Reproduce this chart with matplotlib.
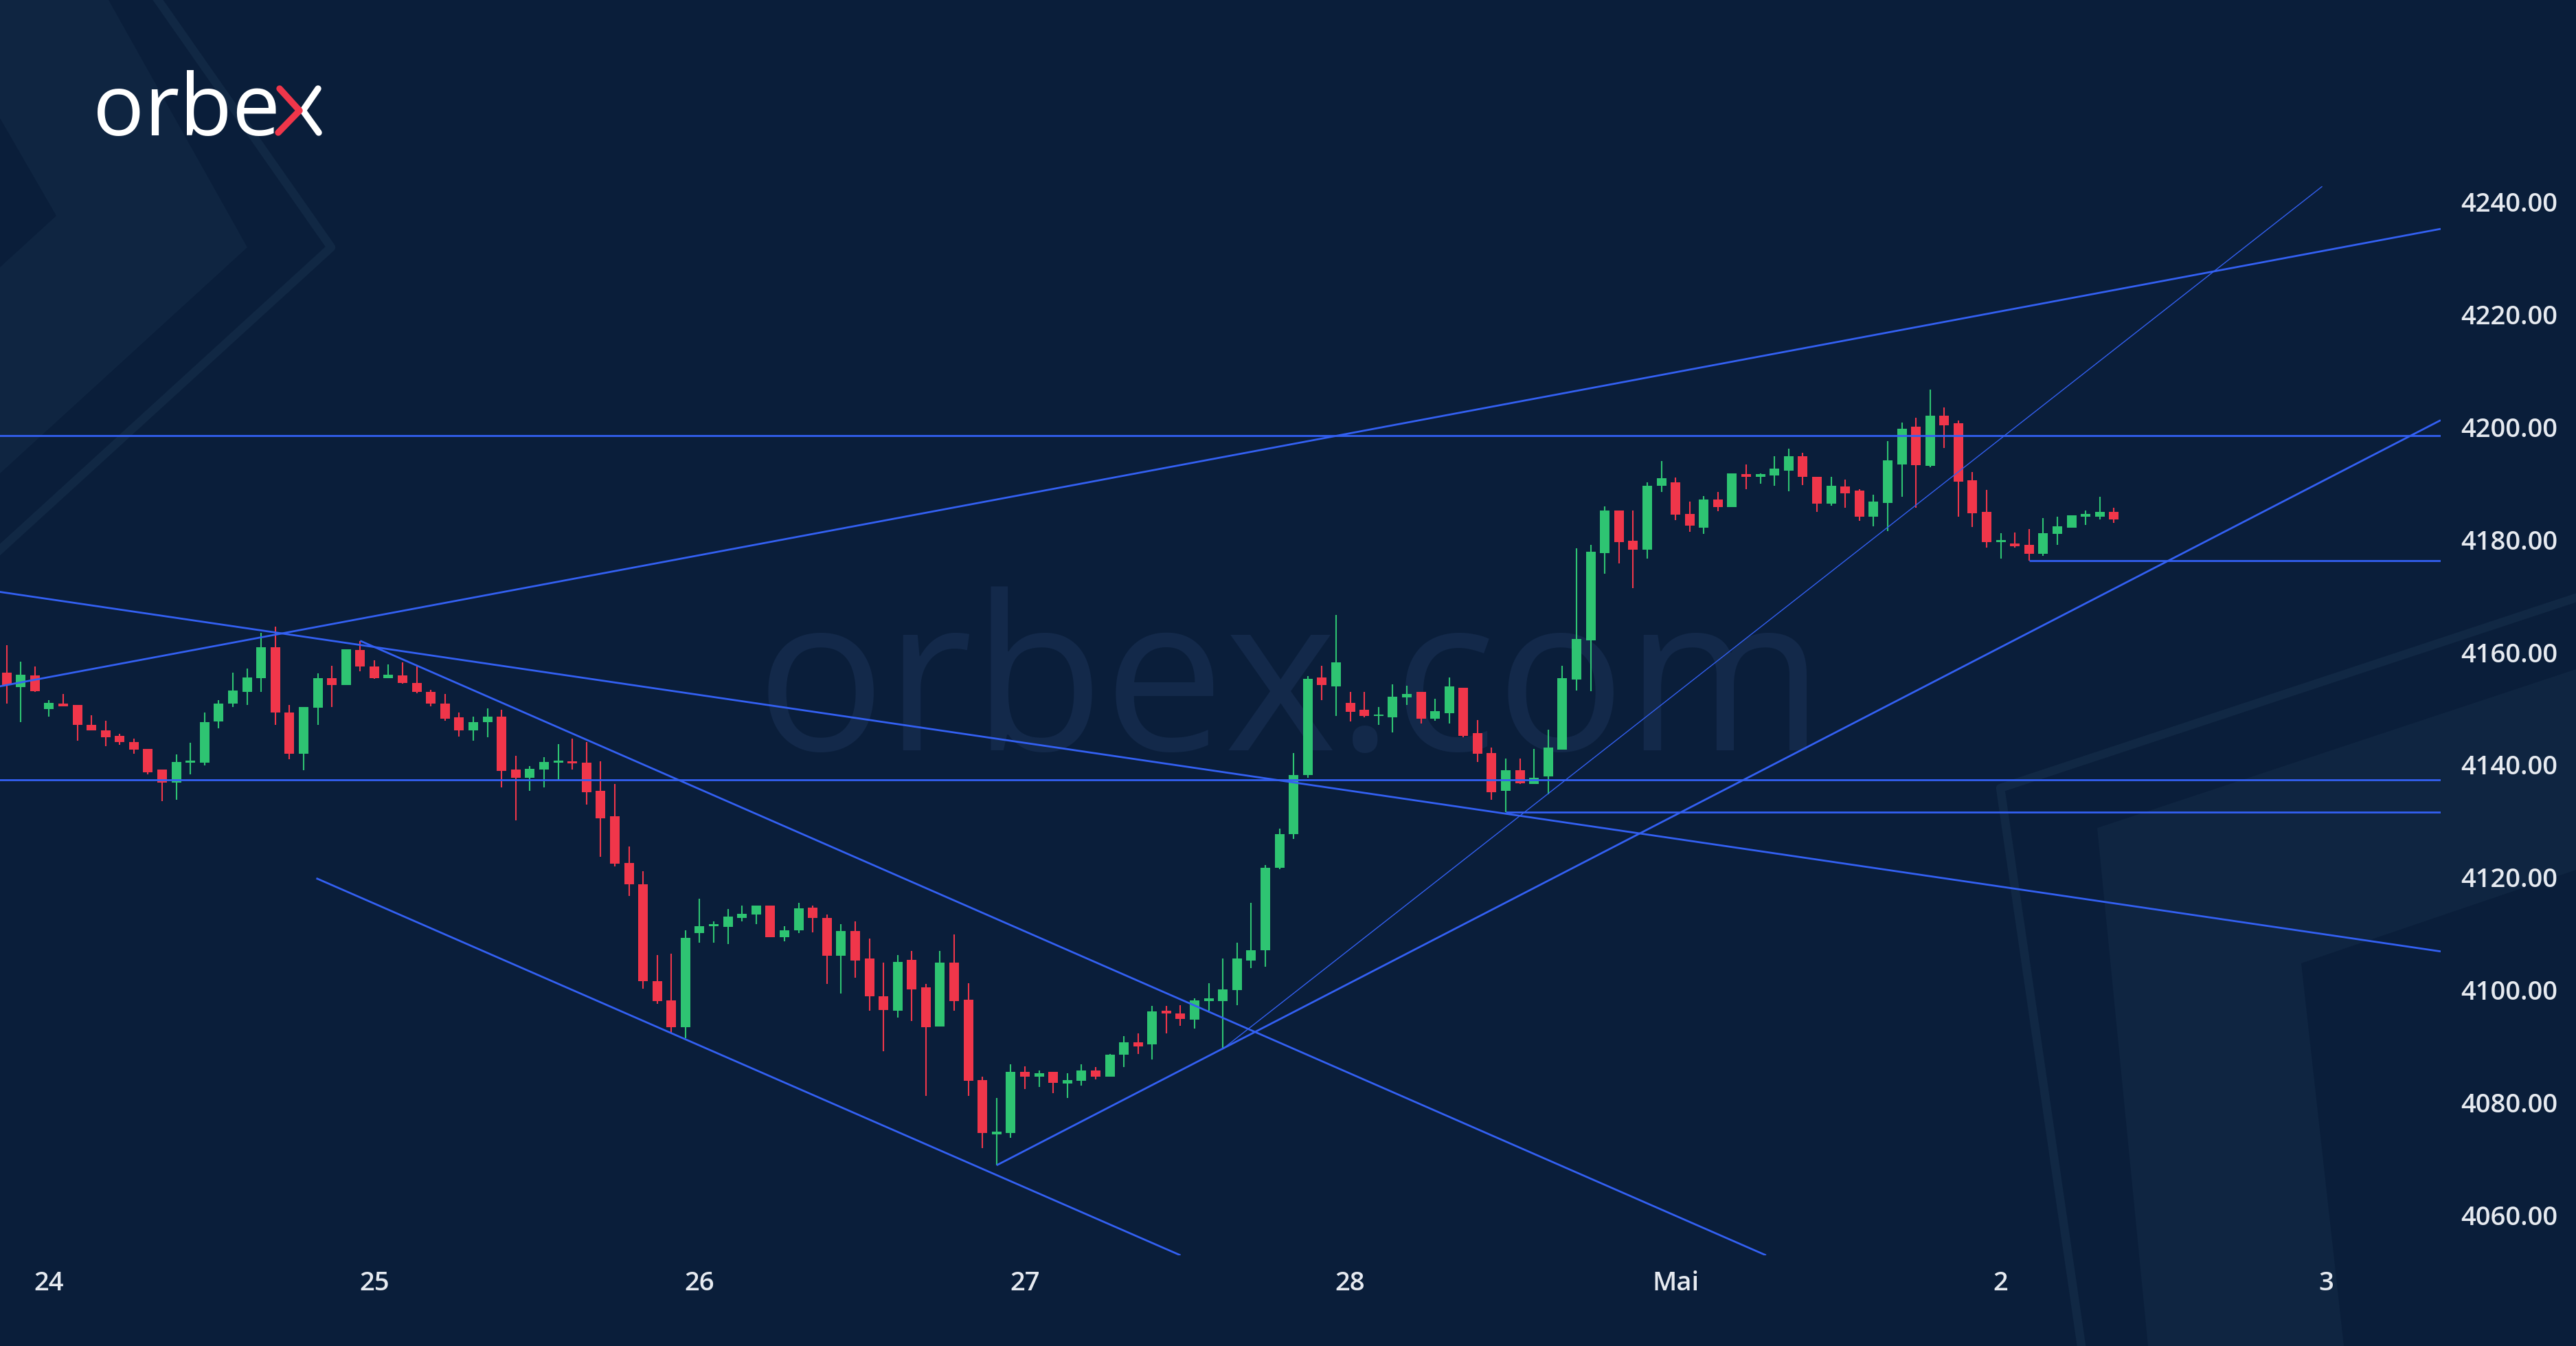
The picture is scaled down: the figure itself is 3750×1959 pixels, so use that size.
import numpy as np
import matplotlib
matplotlib.use('Agg')
import matplotlib.pyplot as plt
from matplotlib.patches import Polygon

plt.rcParams['font.family'] = ['Open Sans', 'DejaVu Sans']

# hourly bars, index 0..149
opens = [4156.3, 4153.8, 4155.9, 4149.9, 4150.9, 4150.6, 4147.1, 4146.1, 4145.1, 4144.0,
         4142.8, 4139.1, 4136.8, 4140.4, 4140.4, 4147.7, 4150.8, 4152.9, 4155.3, 4160.8,
         4149.3, 4141.9, 4150.1, 4155.3, 4154.2, 4160.4, 4157.4, 4155.3, 4155.9, 4154.5,
         4152.9, 4150.9, 4148.4, 4146.1, 4147.5, 4148.5, 4139.1, 4137.6, 4139.1, 4140.4,
         4140.6, 4140.4, 4135.3, 4130.8, 4122.5, 4118.7, 4101.5, 4098.1, 4093.3, 4110.1,
         4111.3, 4111.2, 4112.8, 4113.3, 4115.0, 4109.3, 4110.5, 4114.6, 4112.7, 4106.0,
         4110.4, 4105.5, 4098.8, 4096.3, 4105.3, 4100.4, 4093.5, 4104.8, 4098.2, 4083.9,
         4074.3, 4074.5, 4085.4, 4084.6, 4085.4, 4083.3, 4083.8, 4085.6, 4084.6, 4088.4,
         4090.6, 4090.3, 4096.3, 4095.8, 4094.7, 4098.0, 4098.0, 4099.9, 4105.2, 4107.0,
         4121.7, 4127.6, 4138.1, 4155.5, 4153.9, 4151.0, 4149.8, 4148.6, 4148.4, 4151.9,
         4152.9, 4148.2, 4149.1, 4153.7, 4145.6, 4142.0, 4135.3, 4139.0, 4136.6, 4137.9,
         4142.7, 4155.1, 4162.1, 4177.6, 4185.2, 4179.8, 4178.2, 4189.5, 4190.1, 4184.5,
         4182.1, 4187.1, 4185.8, 4191.6, 4191.1, 4191.4, 4192.2, 4194.8, 4191.1, 4186.4,
         4189.4, 4188.7, 4184.1, 4186.5, 4193.3, 4200.0, 4193.1, 4202.0, 4200.7, 4190.5,
         4184.9, 4179.5, 4179.3, 4179.1, 4177.4, 4181.0, 4182.1, 4184.1, 4184.0, 4184.9]
highs = [4161.2, 4158.3, 4157.4, 4151.5, 4152.5, 4150.6, 4148.8, 4147.8, 4145.5, 4144.6,
         4142.8, 4139.1, 4141.8, 4143.9, 4149.3, 4151.5, 4156.3, 4157.1, 4163.4, 4164.5,
         4150.6, 4150.2, 4156.2, 4157.5, 4160.5, 4162.0, 4158.5, 4157.8, 4158.2, 4157.4,
         4153.3, 4152.5, 4149.2, 4148.5, 4150.0, 4149.7, 4141.6, 4139.7, 4141.3, 4143.6,
         4144.6, 4144.0, 4140.6, 4136.6, 4125.5, 4121.1, 4106.2, 4106.4, 4110.5, 4116.2,
         4112.1, 4114.3, 4114.9, 4115.0, 4115.0, 4111.3, 4115.4, 4115.0, 4113.3, 4111.7,
         4112.1, 4109.1, 4104.8, 4106.2, 4106.9, 4101.0, 4106.9, 4109.8, 4101.2, 4084.6,
         4080.8, 4086.8, 4086.4, 4085.7, 4085.4, 4085.2, 4086.8, 4086.2, 4088.6, 4091.7,
         4092.2, 4097.1, 4097.1, 4097.3, 4098.5, 4101.1, 4105.6, 4108.4, 4115.4, 4122.2,
         4128.6, 4142.0, 4155.7, 4157.6, 4166.6, 4152.9, 4152.9, 4150.2, 4154.3, 4154.0,
         4152.9, 4151.7, 4155.5, 4153.7, 4147.9, 4143.0, 4141.1, 4141.1, 4142.8, 4146.2,
         4157.6, 4178.4, 4179.1, 4185.9, 4185.2, 4185.2, 4190.2, 4193.9, 4191.0, 4186.7,
         4187.7, 4188.4, 4191.7, 4193.3, 4191.8, 4194.8, 4196.2, 4195.4, 4191.1, 4191.1,
         4190.6, 4188.9, 4188.0, 4197.5, 4200.8, 4201.6, 4206.6, 4203.5, 4201.2, 4192.0,
         4188.8, 4181.1, 4181.3, 4181.9, 4183.8, 4184.1, 4184.3, 4185.2, 4187.6, 4185.7]
lows = [4150.8, 4147.6, 4152.9, 4148.5, 4150.3, 4144.3, 4146.1, 4143.3, 4143.5, 4141.9,
        4138.3, 4133.5, 4133.7, 4138.3, 4139.8, 4146.4, 4150.2, 4150.6, 4152.9, 4147.0,
        4141.0, 4139.0, 4147.1, 4150.2, 4154.2, 4156.6, 4155.2, 4155.3, 4154.4, 4152.7,
        4150.3, 4147.8, 4145.0, 4144.2, 4144.8, 4135.9, 4130.1, 4135.3, 4135.9, 4137.2,
        4139.1, 4132.9, 4123.6, 4121.9, 4116.6, 4100.2, 4097.5, 4092.3, 4091.4, 4108.3,
        4108.4, 4108.1, 4112.1, 4111.7, 4109.3, 4108.6, 4110.1, 4110.2, 4101.0, 4099.3,
        4102.1, 4096.3, 4089.1, 4095.0, 4094.4, 4081.1, 4093.5, 4096.3, 4081.1, 4071.9,
        4068.8, 4073.7, 4082.3, 4082.7, 4081.6, 4080.8, 4083.0, 4084.1, 4084.5, 4086.2,
        4088.6, 4087.6, 4092.2, 4093.6, 4093.1, 4096.3, 4089.5, 4097.3, 4103.8, 4104.1,
        4121.4, 4126.8, 4137.7, 4151.4, 4148.6, 4147.7, 4148.4, 4147.1, 4145.7, 4150.6,
        4147.3, 4147.8, 4147.3, 4144.9, 4140.5, 4133.8, 4131.6, 4136.5, 4136.6, 4134.7,
        4142.7, 4153.2, 4153.0, 4173.9, 4175.8, 4171.4, 4176.6, 4188.4, 4183.4, 4181.4,
        4181.0, 4185.0, 4185.8, 4188.9, 4189.9, 4189.5, 4188.6, 4189.7, 4184.9, 4186.0,
        4185.6, 4183.3, 4182.3, 4181.5, 4187.6, 4185.7, 4192.8, 4196.3, 4184.1, 4182.2,
        4178.5, 4176.6, 4178.5, 4176.2, 4177.1, 4179.1, 4182.1, 4182.6, 4183.6, 4183.0]
closes = [4154.2, 4156.0, 4153.0, 4151.0, 4150.4, 4147.1, 4146.1, 4144.8, 4144.0, 4142.7,
          4138.6, 4136.8, 4140.5, 4140.7, 4147.6, 4150.9, 4153.2, 4155.5, 4160.8, 4149.2,
          4141.9, 4150.2, 4155.3, 4154.2, 4160.5, 4157.4, 4155.3, 4156.0, 4154.5, 4152.9,
          4150.8, 4148.1, 4146.1, 4147.6, 4148.5, 4138.9, 4137.6, 4139.3, 4140.5, 4140.7,
          4140.2, 4135.1, 4130.4, 4122.4, 4118.7, 4101.5, 4098.0, 4093.3, 4109.2, 4111.3,
          4111.5, 4113.0, 4113.5, 4115.0, 4109.3, 4110.6, 4114.4, 4112.7, 4106.0, 4110.4,
          4105.2, 4098.8, 4096.4, 4104.9, 4100.0, 4093.3, 4104.8, 4098.0, 4083.8, 4074.5,
          4074.8, 4085.4, 4084.6, 4085.2, 4083.5, 4083.9, 4085.6, 4084.6, 4088.4, 4090.6,
          4089.9, 4096.2, 4095.8, 4094.8, 4098.1, 4098.5, 4100.0, 4105.5, 4107.0, 4121.7,
          4127.7, 4138.1, 4155.2, 4154.2, 4158.2, 4149.4, 4148.6, 4148.8, 4152.1, 4152.5,
          4148.2, 4149.5, 4153.9, 4145.1, 4141.9, 4135.1, 4139.0, 4136.7, 4137.7, 4143.0,
          4155.3, 4162.3, 4177.8, 4185.1, 4179.5, 4178.2, 4189.6, 4190.9, 4184.4, 4182.5,
          4187.1, 4185.8, 4191.7, 4191.1, 4191.6, 4192.6, 4194.8, 4191.1, 4186.4, 4189.6,
          4188.2, 4184.1, 4186.7, 4194.1, 4199.7, 4193.2, 4202.0, 4200.3, 4190.3, 4184.7,
          4179.5, 4179.7, 4178.8, 4177.5, 4181.1, 4182.3, 4184.3, 4184.5, 4184.9, 4183.6]

day_pos = [3, 26, 49, 72, 95, 118, 141, 164]
day_labels = ['24', '25', '26', '27', '28', 'Mai', '2', '3']
price_ticks = [4060, 4080, 4100, 4120, 4140, 4160, 4180, 4200, 4220, 4240]

# drawn trend lines: (bar0, price0, bar1, price1)
trend_lines = [(-0.5, 4153.9, 172.1, 4235.2),
               (-0.5, 4170.7, 172.1, 4106.8),
               (25.0, 4162.0, 124.4, 4052.8),
               (21.9, 4119.8, 83.0, 4052.8),
               (70.0, 4068.8, 172.1, 4201.2)]
thin_line = (86.0, 4089.5, 163.7, 4242.7)
# horizontal levels: (start bar, price)
levels = [(-0.5, 4198.5), (-0.5, 4137.3), (106.0, 4131.6), (143.0, 4176.3)]
x_end = 172.1

BG = '#0a1e3a'
LIGHT = '#0f2541'
BAND = '#112844'
BLUE = '#3360f2'
GREEN = '#2ec472'
RED = '#f0364a'
TXT = '#e6eaf0'

fig = plt.figure(figsize=(37.5, 19.59), dpi=100)
fig.patch.set_facecolor(BG)

# background decoration, pixel coordinates
bg = fig.add_axes([0, 0, 1, 1])
bg.set_xlim(0, 3750)
bg.set_ylim(1959, 0)
bg.axis('off')
bg.add_patch(Polygon([(0, 0), (158, 0), (360, 360), (0, 689), (0, 389), (82, 314), (0, 172)],
                     closed=True, fc=LIGHT, ec='none'))
bg.plot([230, 482, 0], [0, 360, 800], color=BAND, lw=9)
bg.add_patch(Polygon([(3053, 1205), (3750, 974), (3750, 1266), (3350, 1402), (3412, 1959), (3127, 1959)],
                     closed=True, fc=LIGHT, ec='none'))
bg.plot([3750, 2912, 3030], [870, 1147, 1959], color=BAND, lw=9)

# watermark
bg.text(1878, 1092, 'orbex.com', ha='center', va='baseline', fontsize=225,
        color='#13294a')

# logo
bg.text(135, 197, 'orbe', ha='left', va='baseline', fontsize=90, color='white')
bg.plot([463, 441, 464], [129, 161, 193], color='white', lw=6.8,
        solid_capstyle='round', solid_joinstyle='round')
bg.plot([407, 436, 405], [129, 161, 193], color=RED, lw=6.8,
        solid_capstyle='round', solid_joinstyle='round')

# main chart
ax = fig.add_axes([0, 132 / 1959, 3553 / 3750, 1827 / 1959])
ax.patch.set_alpha(0)
ax.set_xlim(-0.465, x_end)
ax.set_ylim(4052.8, 4275.87)

o = np.array(opens)
h = np.array(highs)
l = np.array(lows)
c = np.array(closes)
idx = np.arange(len(o))
cols = np.where(c >= o, GREEN, RED)

for b0, p0, b1, p1 in trend_lines:
    ax.plot([b0, b1], [p0, p1], color=BLUE, lw=2.0, zorder=5, solid_capstyle='butt')
ax.plot([thin_line[0], thin_line[2]], [thin_line[1], thin_line[3]], color=BLUE, lw=1.0, zorder=5)
for start, lvl in levels:
    ax.plot([start, x_end], [lvl, lvl], color=BLUE, lw=2.0, zorder=5, solid_capstyle='butt')

ax.vlines(idx, l, h, colors=cols, lw=1.5, zorder=3)
ax.bar(idx, np.maximum(np.abs(c - o), 0.35), bottom=np.minimum(o, c), width=0.68,
       color=cols, linewidth=0, zorder=4)

for s in ax.spines.values():
    s.set_visible(False)
ax.yaxis.tick_right()
ax.set_yticks(price_ticks, [f'{v:.2f}' for v in price_ticks])
ax.set_xticks(day_pos, day_labels)
ax.tick_params(axis='y', length=0, pad=21, labelsize=27.5, labelcolor=TXT)
ax.tick_params(axis='x', length=0, pad=15.5, labelsize=27.5, labelcolor=TXT)
for t in ax.get_xticklabels() + ax.get_yticklabels():
    t.set_fontweight('semibold')

fig.savefig('out.png', dpi=100, facecolor=BG)
